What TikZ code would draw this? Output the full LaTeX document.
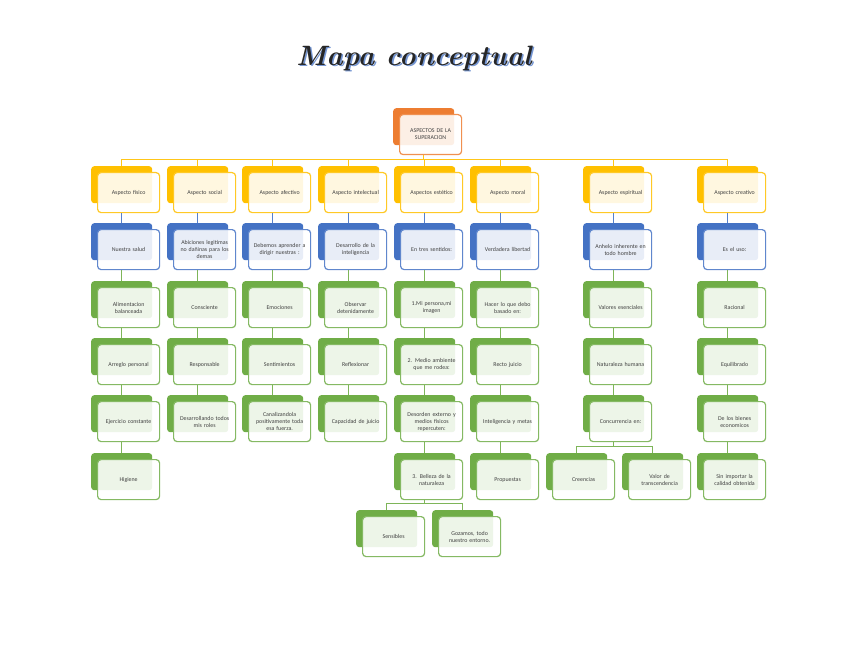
\documentclass[tikz,border=0pt]{standalone}
\usepackage{fontspec}
\newfontfamily\boxfont{Carlito}
\definecolor{cOr}{HTML}{ED7D31}
\definecolor{cGo}{HTML}{FFC000}
\definecolor{cBl}{HTML}{4472C4}
\definecolor{cGr}{HTML}{70AD47}
\definecolor{txt}{HTML}{404040}
\tikzset{
 backbox/.style={draw=none, fill=#1, rounded corners=3pt, minimum width=61pt, minimum height=37pt, anchor=north west, inner sep=0pt},
 frontbox/.style={draw=#1!85, fill=white, fill opacity=0.88, text opacity=1, line width=1.2pt, rounded corners=3.5pt, minimum width=62pt, minimum height=40pt, text width=60pt, align=center, inner sep=0pt, font=\boxfont\fontsize{5.9}{7}\selectfont, text=txt, anchor=north west},
 conn/.style={line width=1.4pt, draw=#1!90},
 titlefont/.style={font=\fontsize{28}{30}\selectfont\bfseries\itshape},
}
\newcommand\bx[5]{%
 \node[backbox=#4] (#1-b) at (#2,#3) {};
 \node[frontbox=#4] (#1) at (#2+6,#3+6) {#5};
}
\newcommand\lnk[3]{\draw[conn=#3] (#1-b.center |- #1.south) -- (#2-b.north);}
\newcommand\brn[3]{\draw[conn=#3] (#1-b.center |- #1.south) |- ([yshift=6.5pt]#2-b.north) -- (#2-b.north);}
\begin{document}
\begin{tikzpicture}[x=1pt,y=-1pt]
\useasboundingbox (0,0) rectangle (848,655);
\fill[white] (0,0) rectangle (848,655);
% title
\node[titlefont, text=cBl!75] (titsh) at (415.6,59.6) {Mapa conceptual};
\node[titlefont, text=black!85] (title) at (414,58) {Mapa conceptual};
% root
\bx{root}{393}{108}{cOr}{ASPECTOS DE LA\\SUPERACION}
% column 1
\bx{a1}{91}{166}{cGo}{Aspecto físico}
\bx{a2}{91}{223}{cBl}{Nuestra salud}
\bx{a3}{91}{281}{cGr}{Alimentacion\\balanceada}
\bx{a4}{91}{338}{cGr}{Arreglo personal}
\bx{a5}{91}{395}{cGr}{Ejercicio constante}
\bx{a6}{91}{453}{cGr}{Higiene}
% column 2
\bx{b1}{167}{166}{cGo}{Aspecto social}
\bx{b2}{167}{223}{cBl}{Abiciones legitimas\\no dañinas para los\\demas}
\bx{b3}{167}{281}{cGr}{Consciente}
\bx{b4}{167}{338}{cGr}{Responsable}
\bx{b5}{167}{395}{cGr}{Desarrollando todos\\mis roles}
% column 3
\bx{c1}{242}{166}{cGo}{Aspecto afectivo}
\bx{c2}{242}{223}{cBl}{Debemos aprender a\\dirigir nuestras :}
\bx{c3}{242}{281}{cGr}{Emociones}
\bx{c4}{242}{338}{cGr}{Sentimientos}
\bx{c5}{242}{395}{cGr}{Canalizandola\\positivamente toda\\esa fuerza.}
% column 4
\bx{d1}{318}{166}{cGo}{Aspecto intelectual}
\bx{d2}{318}{223}{cBl}{Desarrollo de la\\inteligencia}
\bx{d3}{318}{281}{cGr}{Observar\\detenidamente}
\bx{d4}{318}{338}{cGr}{Reflexionar}
\bx{d5}{318}{395}{cGr}{Capacidad de juicio}
% column 5
\bx{e1}{394}{166}{cGo}{Aspectos estético}
\bx{e2}{394}{223}{cBl}{En tres sentidos:}
\bx{e3}{394}{281}{cGr}{1.Mi persona,mi\\imagen}
\bx{e4}{394}{338}{cGr}{2. Medio ambiente\\que me rodea:}
\bx{e5}{394}{395}{cGr}{Desorden externo y\\medios fisicos\\repercuten:}
\bx{e6}{394}{453}{cGr}{3. Belleza de la\\naturaleza}
\bx{e7}{356}{510}{cGr}{Sensibles}
\bx{e8}{432}{510}{cGr}{Gozamos, todo\\nuestro entorno.}
% column 6
\bx{f1}{470}{166}{cGo}{Aspecto moral}
\bx{f2}{470}{223}{cBl}{Verdadera libertad}
\bx{f3}{470}{281}{cGr}{Hacer lo que debo\\basado en:}
\bx{f4}{470}{338}{cGr}{Recto juicio}
\bx{f5}{470}{395}{cGr}{Inteligencia y metas}
\bx{f6}{470}{453}{cGr}{Propuestas}
% column 7
\bx{g1}{583}{166}{cGo}{Aspecto espiritual}
\bx{g2}{583}{223}{cBl}{Anhelo inherente en\\todo hombre}
\bx{g3}{583}{281}{cGr}{Valores esenciales}
\bx{g4}{583}{338}{cGr}{Naturaleza humana}
\bx{g5}{583}{395}{cGr}{Concurrencia en:}
\bx{g6}{546}{453}{cGr}{Creencias}
\bx{g7}{622}{453}{cGr}{Valor de\\transcendencia}
% column 8
\bx{h1}{697}{166}{cGo}{Aspecto creativo}
\bx{h2}{697}{223}{cBl}{Es el uso:}
\bx{h3}{697}{281}{cGr}{Racional}
\bx{h4}{697}{338}{cGr}{Equilibrado}
\bx{h5}{697}{395}{cGr}{De los bienes\\economicos}
\bx{h6}{697}{453}{cGr}{Sin importar la\\calidad obtenida}
% connectors
\foreach \c in {a1,b1,c1,d1,e1,f1,g1,h1}{\brn{root}{\c}{cGo}}
\foreach \c in {a,b,c,d,e,f,g,h}{\lnk{\c1}{\c2}{cBl}\lnk{\c2}{\c3}{cGr}\lnk{\c3}{\c4}{cGr}\lnk{\c4}{\c5}{cGr}}
\lnk{a5}{a6}{cGr}
\lnk{e5}{e6}{cGr}
\lnk{f5}{f6}{cGr}
\lnk{h5}{h6}{cGr}
\brn{e6}{e7}{cGr}
\brn{e6}{e8}{cGr}
\brn{g5}{g6}{cGr}
\brn{g5}{g7}{cGr}
\end{tikzpicture}
\end{document}
